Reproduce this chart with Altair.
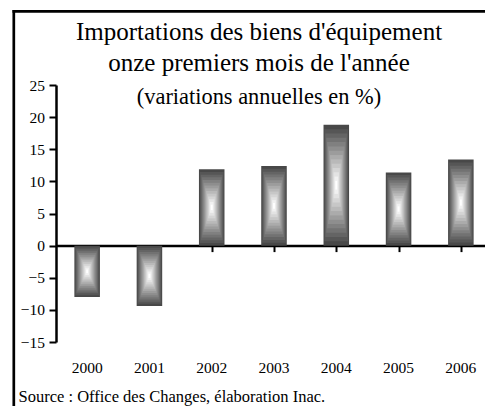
import altair as alt
import pandas as pd

years = ["2000", "2001", "2002", "2003", "2004", "2005", "2006"]
values = [-8.0, -9.4, 11.9, 12.4, 18.8, 11.4, 13.4]
y_ticks = [-15, -10, -5, 0, 5, 10, 15, 20, 25]

title_lines = ["Importations des biens d'équipement", "onze premiers mois de l'année"]
subtitle = "(variations annuelles en %)"
source = "Source : Office des Changes, élaboration Inac."

df = pd.DataFrame({"annee": years, "variation": values})

FONT = "'Liberation Serif', 'Times New Roman', Times, serif"

# concentric shading bands ("from center" fill), outer = dark, inner = white
N_BANDS = 14
DARK, LIGHT = 72, 255

x_bar = alt.X(
    "annee:N", sort=years,
    scale=alt.Scale(paddingInner=0.59, paddingOuter=0.295),
    axis=alt.Axis(orient="bottom", domain=False, ticks=False, tickSize=0,
                  labelFont=FONT, labelFontSize=15.5, labelColor="black",
                  labelAngle=0, labelPadding=18,
                  title=source, titleFont=FONT, titleFontSize=16.5,
                  titleFontWeight="normal", titleColor="black",
                  titleAnchor="start", titleAlign="left",
                  titleBaseline="alphabetic", titleX=-38, titleY=59))
y_scale = alt.Scale(domain=[-15, 25], nice=False, zero=False)
y_axis = alt.Axis(title=None, values=y_ticks, grid=False, labelOverlap=False,
                  domainColor="black", domainWidth=2.5,
                  tickColor="black", tickWidth=2, tickSize=7,
                  labelFont=FONT, labelFontSize=15.5, labelColor="black",
                  labelPadding=4.5)

band_layers = []
for i in range(N_BANDS):
    k = (N_BANDS - i) / N_BANDS
    t = i / (N_BANDS - 1)
    g = round(DARK + (LIGHT - DARK) * t)
    col = f"#{g:02x}{g:02x}{g:02x}"
    lo = (1 - k) / 2
    hi = (1 + k) / 2
    layer = alt.Chart(df).transform_calculate(
        lo=f"datum.variation * {lo}", hi=f"datum.variation * {hi}"
    ).mark_bar(color=col, width=alt.RelativeBandSize(k)).encode(
        x=x_bar,
        y=alt.Y("lo:Q", scale=y_scale, axis=y_axis),
        y2="hi:Q")
    band_layers.append(layer)

bars = alt.layer(*band_layers)

zero_axis = alt.Chart(df).mark_point(opacity=0).encode(
    x=alt.X("annee:N", sort=years,
            scale=alt.Scale(paddingInner=0, paddingOuter=0),
            axis=alt.Axis(orient="bottom", offset=-96.4, labels=False,
                          title=None, domainColor="black", domainWidth=2.5,
                          tickColor="black", tickWidth=2, tickSize=6,
                          bandPosition=1)),
    y=alt.Y("variation:Q", scale=y_scale, axis=y_axis))

one = alt.Data(values=[{"k": 1}])
border_top = alt.Chart(one).mark_rule(color="black", strokeWidth=2.7).encode(
    x=alt.value(-43.5), x2=alt.value(470), y=alt.value(-73.7))
border_left = alt.Chart(one).mark_rule(color="black", strokeWidth=2.7).encode(
    x=alt.value(-42.2), y=alt.value(-75), y2=alt.value(360))

chart = alt.layer(bars, zero_axis, border_top, border_left).resolve_scale(
    x="independent").resolve_axis(x="independent").properties(
    width=436, height=257,
    title=alt.TitleParams(
        text=title_lines, subtitle=subtitle,
        font=FONT, fontSize=25, fontWeight="normal", color="black",
        lineHeight=31,
        subtitleFont=FONT, subtitleFontSize=22.4, subtitleColor="black",
        subtitlePadding=10, frame="group",
        anchor="middle", dx=-15, offset=-100),
    autosize=alt.AutoSizeParams(type="none"),
    padding={"left": 48, "top": 77, "right": -7, "bottom": 64},
).configure_view(stroke=None).configure_axisY(labelOverlap=False)

chart.save("out.html", embed_options={"renderer": "svg", "actions": False})
